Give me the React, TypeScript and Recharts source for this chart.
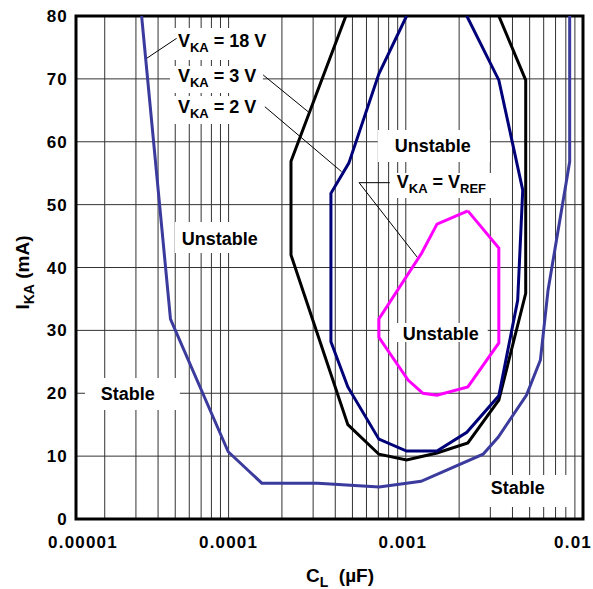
import React from 'react';
import {
  LineChart, Line, XAxis, YAxis, CartesianGrid, ReferenceArea, ReferenceLine, ReferenceDot,
} from 'recharts';

const FONT = '"Liberation Sans", Arial, Helvetica, sans-serif';

// left edge of the printed chart sits a little above 1e-5 (it is labelled 0.00001)
const X_MIN = 1.377e-5;
const X_MAX = 0.01;

const X_GRID = [
  X_MIN, 2e-5, 3e-5, 4e-5, 5e-5, 6e-5, 7e-5, 8e-5, 9e-5,
  1e-4, 2e-4, 3e-4, 4e-4, 5e-4, 6e-4, 7e-4, 8e-4, 9e-4,
  1e-3, 2e-3, 3e-3, 4e-3, 5e-3, 6e-3, 7e-3, 8e-3, 9e-3, 1e-2,
];
const X_LABEL_VALUES = [X_MIN, 1e-4, 1e-3, 1e-2];
const X_LABELS = ['0.00001', '0.0001', '0.001', '0.01'];
const Y_TICKS = [0, 10, 20, 30, 40, 50, 60, 70, 80];

// V_KA = 3 V (black)
const cl3V = [4.59e-4, 2.25e-4, 2.25e-4, 4.71e-4, 7.05e-4, 1.01e-3, 1.5e-3, 2.24e-3, 3.35e-3, 4.75e-3, 4.75e-3, 3.35e-3];
const ika3V = [80, 56.9, 42.0, 15.0, 10.3, 9.4, 10.5, 12.1, 18.9, 35.9, 69.8, 80];

// V_KA = 2 V (navy)
const cl2V = [1.01e-3, 7.05e-4, 4.77e-4, 3.78e-4, 3.78e-4, 4.71e-4, 7.05e-4, 1.01e-3, 1.5e-3, 2.21e-3, 3.35e-3, 4.28e-3, 4.57e-3, 3.35e-3, 2.21e-3];
const ika2V = [80, 70.8, 56.6, 51.8, 28.2, 21.0, 12.7, 10.8, 10.8, 13.8, 19.6, 34.8, 52.3, 69.8, 80];

// V_KA = V_REF (magenta, closed loop)
const clRef = [2.24e-3, 1.5e-3, 1.23e-3, 7.05e-4, 7.05e-4, 1.03e-3, 1.25e-3, 1.5e-3, 2.24e-3, 3.35e-3, 3.35e-3, 2.24e-3];
const ikaRef = [49.0, 46.9, 42.3, 31.8, 28.9, 22.1, 20.0, 19.7, 21.0, 28.0, 43.1, 49.0];

// V_KA = 18 V (blue)
const cl18V = [3.23e-5, 4.7e-5, 9.95e-5, 1.54e-4, 3.19e-4, 7.07e-4, 1.22e-3, 2.73e-3, 3.32e-3, 4.8e-3, 5.75e-3, 6.35e-3, 8.41e-3, 8.41e-3];
const ika18V = [80, 31.8, 10.7, 5.7, 5.7, 5.1, 6.0, 10.3, 13.0, 19.7, 25.3, 36.4, 56.8, 80];

const toPoints = (cl: number[], ika: number[]) => cl.map((c, i) => ({ cl: c, ika: ika[i] }));

const data3V = toPoints(cl3V, ika3V);
const data2V = toPoints(cl2V, ika2V);
const dataRef = toPoints(clRef, ikaRef);
const data18V = toPoints(cl18V, ika18V);

const textStyle = { fontFamily: FONT, fontWeight: 'bold' as const, whiteSpace: 'pre' as const };

const XTick = (props: any) => {
  const { x, y, payload } = props;
  const i = X_LABEL_VALUES.findIndex(v => Math.abs(v - payload.value) / v < 1e-6);
  if (i < 0) return <g />;
  let anchor = 'middle';
  let dx = 0;
  if (i === 0) dx = 7;
  if (i === 2) dx = -3;
  if (i === X_LABELS.length - 1) { anchor = 'end'; dx = 9; }
  return (
    <text x={x + dx} y={y + 29} textAnchor={anchor} fontSize={17} letterSpacing={1.2} fill="#000" style={textStyle}>
      {X_LABELS[i]}
    </text>
  );
};

const YTick = (props: any) => {
  const { x, y, payload } = props;
  return (
    <text x={x} y={y + 6} textAnchor="end" fontSize={17} letterSpacing={1.2} fill="#000" style={textStyle}>
      {payload.value}
    </text>
  );
};

const YTitle = (props: any) => {
  const vb = props.viewBox;
  const cx = vb.x + 29;
  const cy = vb.y + vb.height / 2 + 5;
  return (
    <text x={cx} y={cy} transform={`rotate(-90 ${cx} ${cy})`} textAnchor="middle" fontSize={19} fill="#000" style={textStyle}>
      I<tspan dy={5} fontSize={14}>KA</tspan><tspan dy={-5}> (mA)</tspan>
    </text>
  );
};

const XTitle = (props: any) => {
  const vb = props.viewBox;
  return (
    <text x={vb.x + 264} y={vb.y + 63} textAnchor="middle" fontSize={19} fill="#000" style={textStyle}>
      C<tspan dy={5} fontSize={14}>L</tspan><tspan dy={-5}>{'  (\u00b5F)'}</tspan>
    </text>
  );
};

const vkaLabel = (value: string) => (p: any) => (
  <text x={p.cx} y={p.cy} textAnchor="start" fontSize={18} fill="#000" style={textStyle}>
    V<tspan dy={5} fontSize={13}>KA</tspan><tspan dy={-5}>{` = ${value}`}</tspan>
  </text>
);

const vrefLabel = (p: any) => (
  <text x={p.cx} y={p.cy} textAnchor="start" fontSize={18} fill="#000" style={textStyle}>
    V<tspan dy={5} fontSize={13}>KA</tspan><tspan dy={-5}>{' = V'}</tspan><tspan dy={5} fontSize={13}>REF</tspan>
  </text>
);

const word = (value: string) => (p: any) => (
  <text x={p.cx} y={p.cy} textAnchor="middle" fontSize={18} fill="#000" style={textStyle}>
    {value}
  </text>
);

const boxes = [
  { x1: 4.79e-5, x2: 1.755e-4, y1: 73.0, y2: 78.1 },
  { x1: 4.67e-5, x2: 1.561e-4, y1: 67.75, y2: 72.05 },
  { x1: 4.67e-5, x2: 1.561e-4, y1: 62.82, y2: 67.28 },
  { x1: 4.98e-5, x2: 1.602e-4, y1: 42.31, y2: 47.24 },
  { x1: 6.95e-4, x2: 2.98e-3, y1: 56.78, y2: 61.87 },
  { x1: 8.12e-4, x2: 3.26e-3, y1: 51.05, y2: 55.03 },
  { x1: 8.12e-4, x2: 2.9e-3, y1: 28.15, y2: 31.17 },
  { x1: 1.547e-5, x2: 5.31e-5, y1: 17.34, y2: 22.43 },
  { x1: 2.9e-3, x2: 8.2e-3, y1: 1.91, y2: 7.0 },
];

export default function App() {
  return (
    <div style={{ position: 'absolute', left: 0, top: 0, background: '#fff' }}>
      <LineChart width={593} height={589} margin={{ top: 16, right: 10, bottom: 0, left: 0 }}>
        <CartesianGrid stroke="#333" strokeWidth={1} />
        <XAxis
          dataKey="cl"
          type="number"
          scale="log"
          domain={[X_MIN, X_MAX]}
          allowDataOverflow
          ticks={X_GRID}
          interval={0}
          height={70}
          tickLine={false}
          axisLine={false}
          tickSize={0}
          tickMargin={0}
          tick={<XTick />}
          label={XTitle}
        />
        <YAxis
          type="number"
          domain={[0, 80]}
          allowDataOverflow
          ticks={Y_TICKS}
          interval={0}
          width={76}
          tickLine={false}
          axisLine={false}
          tickSize={0}
          tickMargin={8}
          tick={<YTick />}
          label={YTitle}
        />
        {boxes.map((b, i) => (
          <ReferenceArea key={i} x1={b.x1} x2={b.x2} y1={b.y1} y2={b.y2} fill="#fff" fillOpacity={1} stroke="none" />
        ))}
        <ReferenceLine segment={[{ x: 5.09e-5, y: 76.45 }, { x: 3.45e-5, y: 73.27 }]} stroke="#000" strokeWidth={1} />
        <ReferenceLine segment={[{ x: 1.567e-4, y: 70.62 }, { x: 2.81e-4, y: 64.78 }]} stroke="#000" strokeWidth={1} />
        <ReferenceLine segment={[{ x: 1.602e-4, y: 65.57 }, { x: 4.34e-4, y: 55.24 }]} stroke="#000" strokeWidth={1} />
        <ReferenceLine segment={[{ x: 8.12e-4, y: 53.49 }, { x: 5.45e-4, y: 53.49 }]} stroke="#000" strokeWidth={1} />
        <ReferenceLine segment={[{ x: 5.45e-4, y: 53.49 }, { x: 1.173e-3, y: 41.46 }]} stroke="#000" strokeWidth={1} />
        <Line data={data18V} dataKey="ika" type="linear" stroke="#3b3b9e" strokeWidth={3} dot={false} isAnimationActive={false} />
        <Line data={data3V} dataKey="ika" type="linear" stroke="#000000" strokeWidth={3} dot={false} isAnimationActive={false} />
        <Line data={data2V} dataKey="ika" type="linear" stroke="#000078" strokeWidth={3} dot={false} isAnimationActive={false} />
        <Line data={dataRef} dataKey="ika" type="linear" stroke="#ff00ff" strokeWidth={3} dot={false} isAnimationActive={false} />
        <ReferenceArea x1={X_MIN} x2={X_MAX} y1={0} y2={80} fill="none" stroke="#000" strokeWidth={3} />
        <ReferenceDot x={5.18e-5} y={75.07} r={0} shape={vkaLabel('18 V')} />
        <ReferenceDot x={5.18e-5} y={69.5} r={0} shape={vkaLabel('3 V')} />
        <ReferenceDot x={5.18e-5} y={64.57} r={0} shape={vkaLabel('2 V')} />
        <ReferenceDot x={8.89e-4} y={52.64} r={0} shape={vrefLabel} />
        <ReferenceDot x={8.93e-5} y={43.58} r={0} shape={word('Unstable')} />
        <ReferenceDot x={1.42e-3} y={58.37} r={0} shape={word('Unstable')} />
        <ReferenceDot x={1.575e-3} y={28.47} r={0} shape={word('Unstable')} />
        <ReferenceDot x={2.7e-5} y={18.93} r={0} shape={word('Stable')} />
        <ReferenceDot x={4.28e-3} y={3.98} r={0} shape={word('Stable')} />
      </LineChart>
    </div>
  );
}
